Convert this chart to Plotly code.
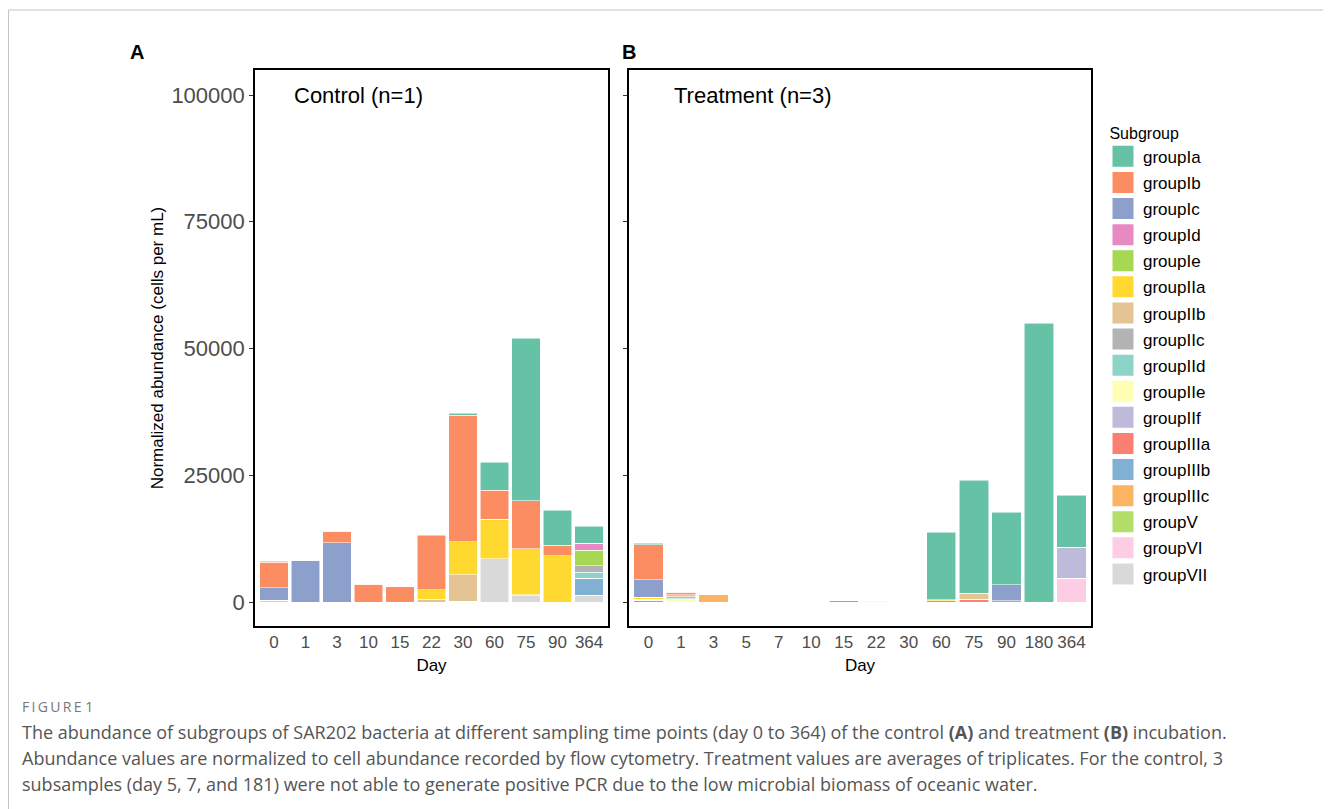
import plotly.graph_objects as go

# ---------------- data ----------------
subgroups = ["groupIa", "groupIb", "groupIc", "groupId", "groupIe", "groupIIa", "groupIIb",
             "groupIIc", "groupIId", "groupIIe", "groupIIf", "groupIIIa", "groupIIIb",
             "groupIIIc", "groupV", "groupVI", "groupVII"]
colors = ["#66c2a5", "#fc8d62", "#8da0cb", "#e78ac3", "#a6d854", "#ffd92f", "#e5c494",
          "#b3b3b3", "#8dd3c7", "#ffffb3", "#bebada", "#fb8072", "#80b1d3",
          "#fdb462", "#b3de69", "#fccde5", "#d9d9d9"]

control_days = ["0", "1", "3", "10", "15", "22", "30", "60", "75", "90", "364"]
treatment_days = ["0", "1", "3", "5", "7", "10", "15", "22", "30", "60", "75", "90", "180", "364"]

# Control (panel A), values per day in control_days order
ctrl_Ia   = [200, 0, 0, 0, 0, 200, 400, 5460, 32030, 6840, 3350]
ctrl_Ib   = [5000, 0, 2240, 3490, 2960, 10650, 24980, 5780, 9525, 2110, 0]
ctrl_Ic   = [2500, 8280, 11700, 0, 0, 0, 0, 0, 0, 0, 0]
ctrl_Id   = [0, 0, 0, 0, 0, 0, 0, 0, 0, 0, 1320]
ctrl_Ie   = [0, 0, 0, 0, 0, 0, 0, 0, 0, 0, 3100]
ctrl_IIa  = [330, 0, 0, 0, 0, 1840, 6430, 7770, 9010, 9130, 0]
ctrl_IIb  = [0, 0, 0, 0, 0, 530, 5260, 0, 0, 0, 0]
ctrl_IIc  = [0, 0, 0, 0, 0, 0, 0, 0, 0, 0, 1240]
ctrl_IId  = [0, 0, 0, 0, 0, 0, 0, 0, 0, 0, 1240]
ctrl_IIe  = [0, 0, 0, 0, 0, 0, 0, 0, 0, 0, 0]
ctrl_IIf  = [0, 0, 0, 0, 0, 0, 0, 0, 0, 0, 0]
ctrl_IIIa = [0, 0, 0, 0, 0, 0, 0, 0, 0, 0, 0]
ctrl_IIIb = [0, 0, 0, 0, 0, 0, 0, 0, 0, 0, 3290]
ctrl_IIIc = [0, 0, 0, 0, 0, 0, 0, 0, 0, 0, 0]
ctrl_V    = [0, 0, 0, 0, 0, 0, 0, 0, 0, 0, 0]
ctrl_VI   = [0, 0, 0, 0, 0, 0, 150, 0, 200, 0, 0]
ctrl_VII  = [0, 0, 0, 0, 0, 0, 0, 8540, 1250, 0, 1380]

# Treatment (panel B), values per day in treatment_days order
trt_Ia   = [280, 0, 0, 0, 0, 0, 0, 0, 0, 13350, 22340, 14280, 55000, 10250]
trt_Ib   = [6900, 450, 0, 0, 0, 0, 0, 0, 0, 0, 0, 0, 0, 0]
trt_Ic   = [3410, 0, 0, 0, 0, 0, 0, 0, 0, 0, 0, 3160, 0, 0]
trt_Id   = [0, 0, 0, 0, 0, 0, 0, 0, 0, 0, 0, 260, 0, 0]
trt_Ie   = [0, 0, 0, 0, 0, 0, 0, 0, 0, 0, 0, 0, 0, 0]
trt_IIa  = [400, 0, 0, 0, 0, 0, 0, 0, 0, 150, 0, 0, 0, 0]
trt_IIb  = [0, 400, 0, 0, 0, 0, 0, 0, 0, 0, 1180, 0, 0, 0]
trt_IIc  = [0, 0, 0, 0, 0, 0, 0, 0, 0, 0, 0, 0, 0, 0]
trt_IId  = [0, 450, 0, 0, 0, 0, 0, 0, 0, 0, 0, 0, 0, 0]
trt_IIe  = [250, 600, 0, 0, 0, 0, 0, 200, 0, 0, 0, 0, 0, 0]
trt_IIf  = [0, 0, 0, 0, 0, 0, 0, 0, 0, 0, 0, 0, 0, 6110]
trt_IIIa = [330, 0, 0, 0, 0, 0, 250, 0, 0, 250, 530, 0, 0, 0]
trt_IIIb = [0, 0, 0, 0, 0, 0, 0, 0, 0, 0, 0, 0, 0, 0]
trt_IIIc = [0, 0, 1450, 0, 0, 0, 0, 0, 0, 0, 0, 0, 0, 0]
trt_V    = [0, 0, 0, 0, 0, 0, 0, 0, 0, 0, 0, 0, 0, 0]
trt_VI   = [0, 0, 0, 0, 0, 0, 0, 0, 0, 0, 0, 0, 0, 4730]
trt_VII  = [0, 0, 0, 0, 0, 0, 0, 0, 0, 0, 0, 0, 0, 0]

y_ticks = [0, 25000, 50000, 75000, 100000]
y_tick_labels = ["0", "25000", "50000", "75000", "100000"]

control = [ctrl_Ia, ctrl_Ib, ctrl_Ic, ctrl_Id, ctrl_Ie, ctrl_IIa, ctrl_IIb, ctrl_IIc, ctrl_IId,
           ctrl_IIe, ctrl_IIf, ctrl_IIIa, ctrl_IIIb, ctrl_IIIc, ctrl_V, ctrl_VI, ctrl_VII]
treatment = [trt_Ia, trt_Ib, trt_Ic, trt_Id, trt_Ie, trt_IIa, trt_IIb, trt_IIc, trt_IId,
             trt_IIe, trt_IIf, trt_IIIa, trt_IIIb, trt_IIIc, trt_V, trt_VI, trt_VII]

# ---------------- layout helpers (screen pixel -> paper) ----------------
OFF = 8                      # page body margin in the browser
W, H = 1331 - OFF, 809 - OFF
ML, MT = 255 - OFF, 70 - OFF
PW, PH = 836, 556
MR, MB = W - ML - PW, H - MT - PH


def px(xs):
    return (xs - OFF - ML) / PW


def py(ys):
    return (MT + PH - (ys - OFF)) / PH


FONT = "Liberation Sans, Arial, Helvetica, sans-serif"
CAPFONT = "Open Sans, Noto Sans, sans-serif"

fig = go.Figure()

# legend-only entries
for g, c in zip(subgroups, colors):
    fig.add_trace(go.Scatter(
        x=[None], y=[None], mode="markers", name=g, legendgroup=g, showlegend=True,
        marker=dict(symbol="square", size=16, color=c, line=dict(color=c, width=5)),
        xaxis="x", yaxis="y", hoverinfo="skip"))

# stacked bars: last subgroup at bottom
for i in reversed(range(len(subgroups))):
    g, c = subgroups[i], colors[i]
    fig.add_trace(go.Bar(
        x=control_days, y=control[i], name=g, legendgroup=g, showlegend=False,
        marker=dict(color=c, line=dict(color="rgba(255,255,255,0.9)", width=0.6)),
        xaxis="x", yaxis="y"))
    fig.add_trace(go.Bar(
        x=treatment_days, y=treatment[i], name=g, legendgroup=g, showlegend=False,
        marker=dict(color=c, line=dict(color="rgba(255,255,255,0.9)", width=0.6)),
        xaxis="x2", yaxis="y2"))

axis_common = dict(showgrid=False, zeroline=False, showline=True, mirror=True,
                   linecolor="black", linewidth=1.6)

yr = [-24 * 197.24, (PH - 24) * 197.24]

fig.update_layout(
    width=W, height=H,
    margin=dict(l=ML, r=MR, t=MT, b=MB, autoexpand=False),
    paper_bgcolor="white", plot_bgcolor="white",
    barmode="stack", bargap=0.1,
    font=dict(family=FONT, color="black"),
    xaxis=dict(domain=[0, px(608)], anchor="y", type="category",
               categoryorder="array", categoryarray=control_days,
               range=[-0.6, len(control_days) - 0.4], ticks="",
               tickfont=dict(size=17, color="#4d4d4d"),
               title=dict(text="Day", font=dict(size=17, color="black"), standoff=8),
               **axis_common),
    xaxis2=dict(domain=[px(629), 1], anchor="y2", type="category",
                categoryorder="array", categoryarray=treatment_days,
                range=[-0.6, len(treatment_days) - 0.4], ticks="",
                tickfont=dict(size=17, color="#4d4d4d"),
                title=dict(text="Day", font=dict(size=17, color="black"), standoff=8),
                **axis_common),
    yaxis=dict(domain=[0, 1], anchor="x", range=yr, tickvals=y_ticks, ticktext=y_tick_labels,
               ticks="outside", ticklen=4, tickwidth=1, tickcolor="#333333",
               tickfont=dict(size=22, color="#4d4d4d"),
               title=dict(text="Normalized abundance (cells per mL)",
                          font=dict(size=17, color="black"), standoff=3),
               **axis_common),
    yaxis2=dict(domain=[0, 1], anchor="x2", range=yr, tickvals=y_ticks,
                showticklabels=False, ticks="outside", ticklen=4, tickwidth=1,
                tickcolor="#333333", **axis_common),
    legend=dict(x=px(1103), y=py(118), xanchor="left", yanchor="top",
                font=dict(size=17, color="black"), itemsizing="trace",
                tracegroupgap=1, bgcolor="rgba(0,0,0,0)",
                title=dict(text=" Subgroup ", font=dict(size=16, color="black"))),
    showlegend=True,
)

TS = "\u2009"
annotations = [
    dict(text="<b>A</b>", x=px(137), y=py(52), font=dict(size=20, color="black")),
    dict(text="<b>B</b>", x=px(629), y=py(52), font=dict(size=20, color="black")),
    dict(text="Control (n=1)", x=px(292), y=py(95), xanchor="left",
         font=dict(size=22, color="black")),
    dict(text="Treatment (n=3)", x=px(672), y=py(95), xanchor="left",
         font=dict(size=22, color="black")),
    dict(text=TS.join("FIGURE") + " 1", x=px(20), y=py(706), xanchor="left",
         font=dict(size=14, color="#777777", family=CAPFONT)),
    dict(text="The abundance of subgroups of SAR202 bacteria at different sampling time points "
              "(day 0 to 364) of the control <b>(A)</b> and treatment <b>(B)</b> incubation.",
         x=px(20), y=py(732), xanchor="left", font=dict(size=18, color="#555555", family=CAPFONT)),
    dict(text="Abundance values are normalized to cell abundance recorded by flow cytometry. "
              "Treatment values are averages of triplicates. For the control, 3",
         x=px(20), y=py(758), xanchor="left", font=dict(size=18, color="#555555", family=CAPFONT)),
    dict(text="subsamples (day 5, 7, and 181) were not able to generate positive PCR due to "
              "the low microbial biomass of oceanic water.",
         x=px(20), y=py(784), xanchor="left", font=dict(size=18, color="#555555", family=CAPFONT)),
]
for a in annotations:
    a.update(xref="paper", yref="paper", showarrow=False)
    a.setdefault("xanchor", "center")
    a.setdefault("yanchor", "middle")
fig.update_layout(annotations=annotations)

fig.update_layout(shapes=[
    dict(type="line", xref="paper", yref="paper", x0=px(8.5), x1=px(1331), y0=py(10), y1=py(10),
         line=dict(color="#c4c4c4", width=1)),
    dict(type="line", xref="paper", yref="paper", x0=px(8.5), x1=px(8.5), y0=py(10), y1=py(809),
         line=dict(color="#c4c4c4", width=1)),
])

fig.write_html("out.html")
